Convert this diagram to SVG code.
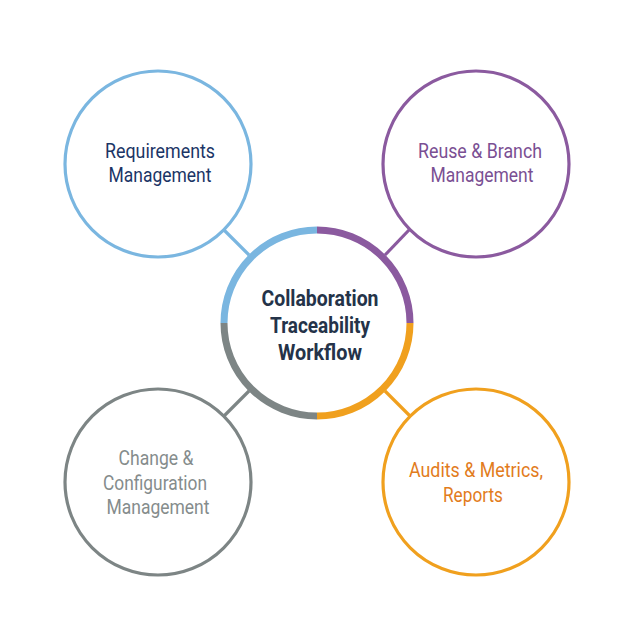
<svg xmlns="http://www.w3.org/2000/svg" width="633" height="633" viewBox="0 0 633 633">
<style>
.node{fill:#fff;stroke-width:3.2}
.lbl{font-family:Roboto,"Liberation Sans",sans-serif;font-size:20px;text-anchor:middle}
.ctr{font-family:Roboto,"Liberation Sans",sans-serif;font-size:22px;font-weight:bold;text-anchor:middle;fill:#243349}
.ring{fill:none;stroke-width:7}
.conn{stroke-width:3.2}
</style>
<rect width="633" height="633" fill="#fff"/>
<g id="connectors">
<line class="conn" x1="224" y1="230" x2="249" y2="255" stroke="#7ab6e0"/>
<line class="conn" x1="409" y1="230" x2="385" y2="255" stroke="#8b5a9f"/>
<line class="conn" x1="224" y1="416" x2="249" y2="391" stroke="#7d8585"/>
<line class="conn" x1="410" y1="416" x2="385" y2="391" stroke="#f0a01e"/>
</g>
<g id="requirements">
<circle class="node" cx="158" cy="164" r="93" stroke="#7ab6e0"/>
<text class="lbl" fill="#1b3566"><tspan x="160" y="158" textLength="110" lengthAdjust="spacingAndGlyphs">Requirements</tspan><tspan x="160" y="182" textLength="103" lengthAdjust="spacingAndGlyphs">Management</tspan></text>
</g>
<g id="reuse">
<circle class="node" cx="476" cy="164" r="93" stroke="#8b5a9f"/>
<text class="lbl" fill="#7a4f93"><tspan x="480" y="158" textLength="124" lengthAdjust="spacingAndGlyphs">Reuse &amp; Branch</tspan><tspan x="482" y="182" textLength="103" lengthAdjust="spacingAndGlyphs">Management</tspan></text>
</g>
<g id="change">
<circle class="node" cx="158" cy="482" r="93" stroke="#7d8585"/>
<text class="lbl" fill="#858c8c"><tspan x="156" y="465" textLength="75" lengthAdjust="spacingAndGlyphs">Change &amp;</tspan><tspan x="155" y="490" textLength="104" lengthAdjust="spacingAndGlyphs">Configuration</tspan><tspan x="158" y="514" textLength="103" lengthAdjust="spacingAndGlyphs">Management</tspan></text>
</g>
<g id="audits">
<circle class="node" cx="476" cy="482" r="93" stroke="#f0a01e"/>
<text class="lbl" fill="#e27c1c"><tspan x="476" y="477" textLength="134" lengthAdjust="spacingAndGlyphs">Audits &amp; Metrics,</tspan><tspan x="473" y="502" textLength="60" lengthAdjust="spacingAndGlyphs">Reports</tspan></text>
</g>
<g id="center">
<circle cx="317" cy="323" r="93" fill="#fff"/>
<path class="ring" d="M317 230 A93 93 0 0 1 410 323" stroke="#8b5a9f"/>
<path class="ring" d="M410 323 A93 93 0 0 1 317 416" stroke="#f0a01e"/>
<path class="ring" d="M317 416 A93 93 0 0 1 224 323" stroke="#7d8585"/>
<path class="ring" d="M224 323 A93 93 0 0 1 317 230" stroke="#7ab6e0"/>
<text class="ctr"><tspan x="320" y="306" textLength="117" lengthAdjust="spacingAndGlyphs">Collaboration</tspan><tspan x="320" y="333" textLength="100" lengthAdjust="spacingAndGlyphs">Traceability</tspan><tspan x="320" y="360" textLength="84" lengthAdjust="spacingAndGlyphs">Workflow</tspan></text>
</g>
</svg>
